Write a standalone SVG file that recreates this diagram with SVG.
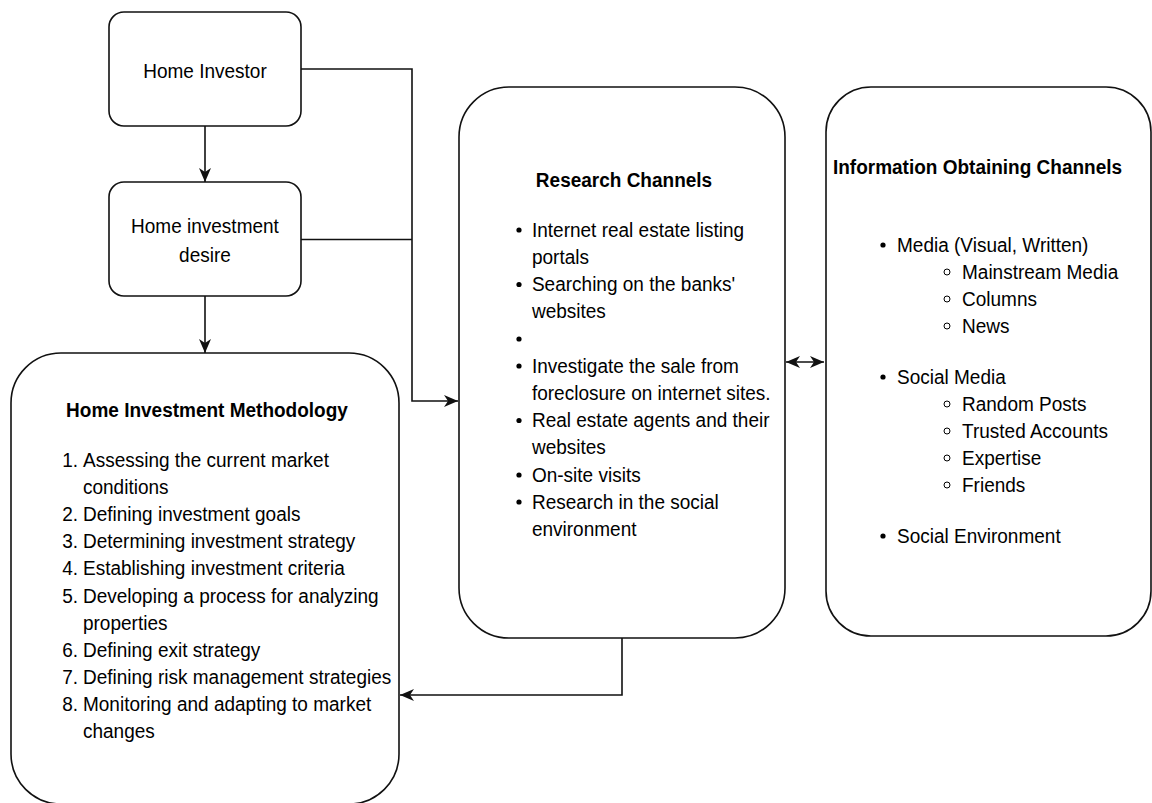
<svg xmlns="http://www.w3.org/2000/svg" width="1152" height="803" viewBox="0 0 1152 803">
<style>
.box{fill:#fff;stroke:#111;stroke-width:1.6}
.ln{fill:none;stroke:#111;stroke-width:1.6}
text{font-family:"Liberation Sans",Arial,Helvetica,sans-serif;font-size:21px;fill:#000}
.b{font-weight:bold}
.c{text-anchor:middle}
.e{text-anchor:end}
.dot{fill:#000}
.odot{fill:none;stroke:#000;stroke-width:1}
</style>
<defs>
<marker id="ah" viewBox="0 0 14 12" refX="14" refY="6" markerWidth="14" markerHeight="12" markerUnits="userSpaceOnUse" orient="auto-start-reverse">
<path d="M0,0 L14,6 L0,12 L4,6 Z" fill="#111"/>
</marker>
</defs>
<rect width="1152" height="803" fill="#fff"/>

<g id="connectors">
<path class="ln" d="M205,126 L205,182" marker-end="url(#ah)"/>
<path class="ln" d="M205,296 L205,353" marker-end="url(#ah)"/>
<path class="ln" d="M301,69 L412,69 L412,401 L458,401" marker-end="url(#ah)"/>
<path class="ln" d="M301,239.5 L412,239.5"/>
<path class="ln" d="M622,638 L622,695 L400,695" marker-end="url(#ah)"/>
<path class="ln" d="M786,362 L824,362" marker-start="url(#ah)" marker-end="url(#ah)"/>
</g>

<g id="home-investor">
<rect class="box" x="109" y="12" width="192" height="114" rx="15"/>
<g transform="scale(0.905,1)">
<text class="c" x="226.5" y="78">Home Investor</text>
</g>
</g>

<g id="home-investment-desire">
<rect class="box" x="109" y="182" width="192" height="114" rx="15"/>
<g transform="scale(0.905,1)">
<text class="c" x="226.5" y="233">Home investment</text>
<text class="c" x="226.5" y="262">desire</text>
</g>
</g>

<g id="home-investment-methodology">
<rect class="box" x="11" y="353" width="388" height="451" rx="50"/>
<g transform="scale(0.905,1)">
<text class="b c" x="228.7" y="417">Home Investment Methodology</text>
<text class="e" x="86.2" y="467">1.</text><text x="91.7" y="467">Assessing the current market</text>
<text x="91.7" y="494">conditions</text>
<text class="e" x="86.2" y="521">2.</text><text x="91.7" y="521">Defining investment goals</text>
<text class="e" x="86.2" y="548">3.</text><text x="91.7" y="548">Determining investment strategy</text>
<text class="e" x="86.2" y="575.5">4.</text><text x="91.7" y="575.5">Establishing investment criteria</text>
<text class="e" x="86.2" y="603">5.</text><text x="91.7" y="603">Developing a process for analyzing</text>
<text x="91.7" y="630">properties</text>
<text class="e" x="86.2" y="657">6.</text><text x="91.7" y="657">Defining exit strategy</text>
<text class="e" x="86.2" y="684">7.</text><text x="91.7" y="684">Defining risk management strategies</text>
<text class="e" x="86.2" y="711.5">8.</text><text x="91.7" y="711.5">Monitoring and adapting to market</text>
<text x="91.7" y="738.5">changes</text>
</g>
</g>

<g id="research-channels">
<rect class="box" x="459" y="87" width="326" height="551" rx="50"/>
<g transform="scale(0.905,1)">
<text class="b c" x="689.5" y="187">Research Channels</text>
<text x="587.8" y="237">Internet real estate listing</text>
<text x="587.8" y="264">portals</text>
<text x="587.8" y="291.5">Searching on the banks'</text>
<text x="587.8" y="318.5">websites</text>
<text x="587.8" y="373">Investigate the sale from</text>
<text x="587.8" y="400">foreclosure on internet sites.</text>
<text x="587.8" y="427.5">Real estate agents and their</text>
<text x="587.8" y="454.5">websites</text>
<text x="587.8" y="482">On-site visits</text>
<text x="587.8" y="509">Research in the social</text>
<text x="587.8" y="536">environment</text>
</g>
<circle class="dot" cx="519" cy="230" r="2.6"/>
<circle class="dot" cx="519" cy="284.5" r="2.6"/>
<circle class="dot" cx="519" cy="339" r="2.6"/>
<circle class="dot" cx="519" cy="366" r="2.6"/>
<circle class="dot" cx="519" cy="420.5" r="2.6"/>
<circle class="dot" cx="519" cy="475" r="2.6"/>
<circle class="dot" cx="519" cy="502" r="2.6"/>
</g>

<g id="information-obtaining-channels">
<rect class="box" x="826" y="87" width="325" height="549" rx="45"/>
<g transform="scale(0.905,1)">
<text class="b" x="920.4" y="174">Information Obtaining Channels</text>
<text x="991.2" y="252">Media (Visual, Written)</text>
<text x="1063" y="279">Mainstream Media</text>
<text x="1063" y="306">Columns</text>
<text x="1063" y="333">News</text>
<text x="991.2" y="384">Social Media</text>
<text x="1063" y="411">Random Posts</text>
<text x="1063" y="438">Trusted Accounts</text>
<text x="1063" y="465">Expertise</text>
<text x="1063" y="492">Friends</text>
<text x="991.2" y="543">Social Environment</text>
</g>
<circle class="dot" cx="883" cy="245" r="2.6"/>
<circle class="odot" cx="947" cy="272" r="3"/>
<circle class="odot" cx="947" cy="299" r="3"/>
<circle class="odot" cx="947" cy="326" r="3"/>
<circle class="dot" cx="883" cy="377" r="2.6"/>
<circle class="odot" cx="947" cy="404" r="3"/>
<circle class="odot" cx="947" cy="431" r="3"/>
<circle class="odot" cx="947" cy="458" r="3"/>
<circle class="odot" cx="947" cy="485" r="3"/>
<circle class="dot" cx="883" cy="536" r="2.6"/>
</g>
</svg>
